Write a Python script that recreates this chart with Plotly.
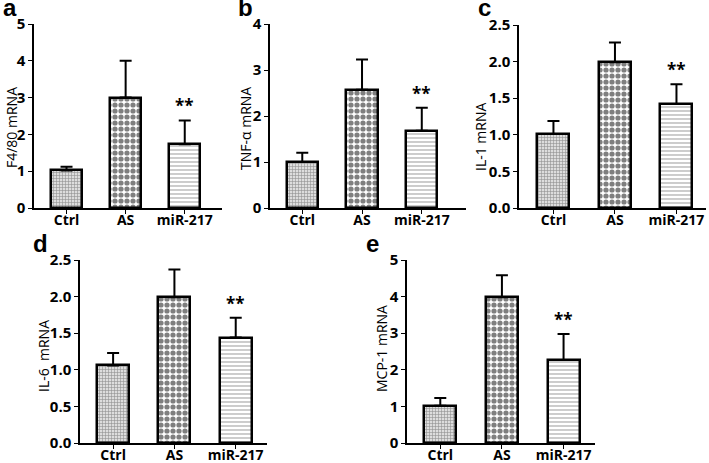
import plotly.graph_objects as go

groups = ["Ctrl", "AS", "miR-217"]

# mean values and top of error bars (mean + SD) per panel
f480 = [1.02, 3.00, 1.73]
f480_top = [1.12, 4.00, 2.38]
tnf = [1.00, 2.57, 1.68]
tnf_top = [1.20, 3.23, 2.18]
il1 = [1.01, 1.99, 1.42]
il1_top = [1.19, 2.26, 1.69]
il6 = [1.06, 1.99, 1.44]
il6_top = [1.23, 2.37, 1.71]
mcp1 = [1.02, 3.98, 2.27]
mcp1_top = [1.23, 4.58, 2.98]

panels = [
    ("a", "F4/80 mRNA", f480, f480_top, 5, 1, "d"),
    ("b", "TNF-α mRNA", tnf, tnf_top, 4, 1, "d"),
    ("c", "IL-1 mRNA", il1, il1_top, 2.5, 0.5, ".1f"),
    ("d", "IL-6  mRNA", il6, il6_top, 2.5, 0.5, ".1f"),
    ("e", "MCP-1 mRNA", mcp1, mcp1_top, 5, 1, "d"),
]

W, H = 709, 463
# axis boxes in pixels: x0, x1, ytop, ybottom, x range
boxes = [
    (34, 222, 24, 208, [-0.55, 2.63]),
    (270, 466, 24, 208, [-0.54, 2.74]),
    (519, 706, 25, 208, [-0.56, 2.48]),
    (80, 267, 260, 443, [-0.54, 2.51]),
    (407, 595, 260, 443, [-0.54, 2.51]),
]
letter_pos = [(10, 8), (245, 8), (484, 8), (40, 243), (372, 243)]
ytitle_pos = [(11, 128), (245, 129), (481, 136), (43, 356), (381, 349)]

patterns = [
    dict(shape="+", fgcolor="#444", bgcolor="#dddddd", size=3, solidity=0.35),
    dict(shape=".", fgcolor="black", bgcolor="white", size=6, solidity=0.6),
    dict(shape="-", fgcolor="#555", bgcolor="white", size=4, solidity=0.3),
]

fig = go.Figure()
tickfont = dict(family="Open Sans", size=15, color="black", weight="bold")


def px(x, y):
    return x / W, 1 - y / H


for i, (letter, title, vals, tops, ymax, dtick, fmt) in enumerate(panels):
    n = i + 1
    xa = "x" if n == 1 else f"x{n}"
    ya = "y" if n == 1 else f"y{n}"
    x0, x1, yt, yb, xr = boxes[i]
    for j in range(3):
        fig.add_trace(go.Bar(
            x=[groups[j]], y=[vals[j]], xaxis=xa, yaxis=ya, width=0.52,
            marker=dict(color="white", line=dict(color="black", width=2.5),
                        pattern=patterns[j]),
            error_y=dict(type="data", symmetric=False, array=[tops[j] - vals[j]],
                         arrayminus=[0], color="black", thickness=2, width=6),
            showlegend=False, hoverinfo="skip",
        ))
    sfx = "" if n == 1 else str(n)
    fig.layout["xaxis" + sfx] = dict(
        domain=[x0 / W, min(x1 / W, 1)], anchor=ya, range=xr, showline=True,
        linecolor="black", linewidth=1.5, ticks="outside", ticklen=4,
        tickwidth=1.2, tickcolor="black", automargin=False, ticklabelstandoff=-6,
        tickfont=dict(family="Open Sans", size=14, color="black", weight="bold"),
        showgrid=False, zeroline=False, fixedrange=True,
    )
    fig.layout["yaxis" + sfx] = dict(
        domain=[1 - yb / H, 1 - yt / H], anchor=xa, range=[0, ymax], dtick=dtick,
        tickformat=fmt if fmt != "d" else None, showline=True, linecolor="black",
        linewidth=1.5, ticks="outside", ticklen=4, tickwidth=1.2, tickcolor="black",
        tickfont=tickfont, showgrid=False, zeroline=False, automargin=False,
    )
    # y-axis title
    tx, ty = px(*ytitle_pos[i])
    fig.add_annotation(x=tx, y=ty, xref="paper", yref="paper", text=title, textangle=-90,
                       showarrow=False, xanchor="center", yanchor="middle",
                       font=dict(family="Open Sans", size=14, color="black"))
    # significance marker above miR-217
    fig.add_annotation(x=groups[2], y=tops[2], xref=xa, yref=ya, text="**",
                       showarrow=False, yanchor="bottom", yshift=1,
                       font=dict(family="Open Sans", size=17, color="black", weight="bold"))
    lx, ly = px(*letter_pos[i])
    fig.add_annotation(x=lx, y=ly, xref="paper", yref="paper", text=letter,
                       showarrow=False, xanchor="center", yanchor="middle",
                       font=dict(family="Liberation Sans", size=24,
                                 color="black", weight="bold"))

fig.update_layout(
    width=W, height=H, margin=dict(l=0, r=0, t=0, b=0),
    plot_bgcolor="white", paper_bgcolor="white", bargap=0,
)

# drop the default 8px body margin so the figure fills the window exactly
fig.write_html("out.html", config={"displayModeBar": False},
               post_script="document.body.style.margin='0';")
